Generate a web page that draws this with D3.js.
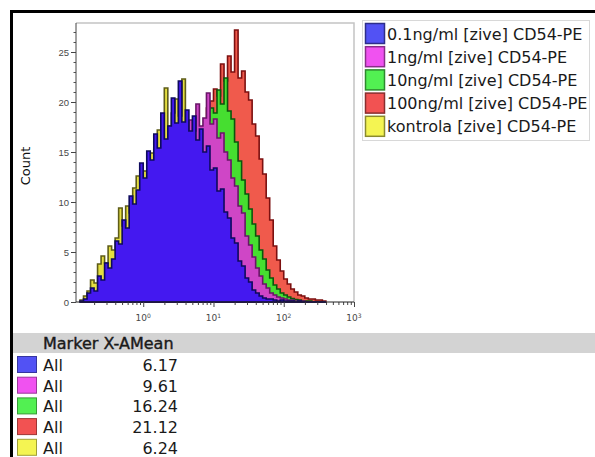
<!DOCTYPE html>
<html>
<head>
<meta charset="utf-8">
<script src="https://cdn.jsdelivr.net/npm/d3@7"></script>
<style>
  body { margin: 0; background: #fff; }
  svg { display: block; font-family: "DejaVu Sans", Verdana, sans-serif; }
</style>
</head>
<body>
<div id="chart"></div>
<script>
// histogram channels: log10 of first bin edge and bin width (decades)
const binStart = -0.9;
const binWidth = 0.05;

const seriesNames = ["0.1ng/ml [zive] CD54-PE", "1ng/ml [zive] CD54-PE", "10ng/ml [zive] CD54-PE",
  "100ng/ml [zive] CD54-PE", "kontrola [zive] CD54-PE"];
const markerMeans = ["6.17", "9.61", "16.24", "21.12", "6.24"];

const blueCounts = [0.1, 0.3, 0.9, 1.4, 1.1, 2.6, 2.2, 3.9, 3.4, 4.3, 6.1, 5.8, 8.2, 7.4, 10.6, 9.8, 11.2, 13.9, 12.4, 15.1,
  14.2, 16.8, 15.4, 18.9, 16.3, 17.6, 20.4, 17.9, 22.1, 18.0, 19.2, 17.1, 18.6, 16.2, 17.3, 15.0, 15.6, 13.2, 13.4, 11.1,
  11.3, 9.0, 8.4, 6.4, 5.9, 4.1, 3.6, 2.4, 2.0, 1.2, 0.9, 0.6, 0.4, 0.3, 0.3, 0.2, 0.1, 0.2, 0.1, 0.1,
  0.1, 0, 0.1, 0, 0, 0, 0, 0, 0, 0];
const magentaCounts = [0, 0.1, 0.3, 0.5, 0.8, 1.2, 1.5, 2.1, 2.5, 3.0, 3.6, 4.2, 5.0, 5.6, 6.5, 7.2, 8.0, 9.1, 10.0, 10.8,
  11.5, 12.3, 12.8, 13.6, 14.0, 14.6, 15.1, 15.7, 16.0, 16.6, 16.9, 18.2, 17.1, 19.8, 17.6, 18.4, 20.9, 17.8, 18.3, 16.4,
  16.9, 15.0, 14.2, 12.4, 11.6, 9.6, 8.9, 6.6, 5.7, 4.5, 3.4, 2.6, 1.8, 1.4, 0.9, 0.7, 0.5, 0.4, 0.3, 0.2,
  0.2, 0.1, 0.1, 0.1, 0, 0, 0, 0, 0, 0];
const greenCounts = [0, 0, 0.1, 0.1, 0.3, 0.4, 0.6, 0.8, 1.1, 1.3, 1.6, 2.0, 2.4, 2.8, 3.3, 3.8, 4.4, 5.0, 5.6, 6.3,
  7.0, 7.7, 8.5, 9.3, 10.0, 10.8, 11.6, 12.4, 13.1, 13.8, 14.5, 15.1, 15.8, 16.4, 17.0, 17.6, 18.2, 19.4, 18.9, 21.2,
  19.8, 22.4, 19.1, 18.3, 16.0, 14.1, 12.2, 10.8, 9.3, 7.8, 6.6, 5.2, 4.3, 3.2, 2.4, 1.7, 1.3, 0.9, 0.7, 0.5,
  0.35, 0.25, 0.2, 0.1, 0.1, 0.1, 0, 0, 0, 0];
const redCounts = [0, 0, 0, 0.1, 0.2, 0.3, 0.4, 0.6, 0.8, 1.0, 1.3, 1.6, 2.0, 2.4, 2.9, 3.4, 4.0, 4.6, 5.3, 6.0,
  6.8, 7.5, 8.3, 9.0, 9.8, 10.5, 11.2, 11.9, 12.5, 13.0, 13.6, 14.3, 15.0, 15.8, 16.9, 17.6, 19.4, 20.1, 21.3, 20.6,
  23.8, 22.1, 24.6, 23.0, 27.2, 22.4, 23.1, 21.0, 20.2, 17.8, 16.6, 14.3, 12.8, 10.4, 8.2, 5.6, 4.2, 3.1, 2.3, 1.8,
  1.3, 1.0, 0.7, 0.6, 0.4, 0.3, 0.3, 0.2, 0.2, 0.1];
const yellowCounts = [0.2, 0.6, 1.1, 2.2, 1.9, 3.8, 4.6, 3.9, 5.6, 5.2, 6.4, 9.4, 7.6, 9.6, 8.9, 11.4, 12.6, 11.9, 13.1, 12.8,
  14.9, 15.6, 17.2, 16.4, 21.4, 17.6, 18.9, 20.3, 18.6, 22.3, 18.1, 17.8, 17.4, 16.4, 15.8, 14.6, 13.6, 12.3, 11.2, 10.0,
  8.8, 7.4, 6.2, 5.0, 4.0, 3.1, 2.3, 1.7, 1.2, 0.8, 0.5, 0.35, 0.25, 0.2, 0.15, 0.1, 0.1, 0.1, 0, 0,
  0, 0, 0, 0, 0, 0, 0, 0, 0, 0];

const yTicks = [0, 5, 10, 15, 20, 25];
const xTicks = [1, 10, 100, 1000];

const swatchColors = ["#5252f4", "#f052f0", "#52f052", "#f25252", "#f4f452"];
const fillColors = ["#4418f0", "#cf46c6", "#46de30", "#f05a4c", "#e4de40"];
const strokeColors = ["#0e0a5e", "#6a1668", "#0c560c", "#7c1010", "#5e5c18"];
const allCounts = [blueCounts, magentaCounts, greenCounts, redCounts, yellowCounts];

const W = 595, H = 457;
const plot = { left: 76, right: 354, top: 23, bottom: 302 };

const svg = d3.select("#chart")
  .append("svg")
    .attr("width", W)
    .attr("height", H);

const x = d3.scaleLog()
  .domain([Math.pow(10, -0.957), 1000])
  .range([plot.left, plot.right]);

const y = d3.scaleLinear()
  .domain([0, 27.9])
  .range([plot.bottom, plot.top]);

// step-shaped area for one histogram
const area = d3.area()
  .curve(d3.curveStepAfter)
  .x(d => x(Math.pow(10, d.edge)))
  .y0(y(0))
  .y1(d => y(d.count));

function binned(counts) {
  const pts = counts.map((c, i) => ({ edge: binStart + i * binWidth, count: c }));
  pts.push({ edge: binStart + counts.length * binWidth, count: 0 });
  return pts;
}

// draw back to front: kontrola behind, 0.1ng/ml in front
const hist = svg.append("g");
[4, 3, 2, 1, 0].forEach(k => {
  hist.append("path")
    .datum(binned(allCounts[k]))
    .attr("d", area)
    .attr("fill", fillColors[k])
    .attr("stroke", strokeColors[k])
    .attr("stroke-width", 1.6)
    .attr("stroke-linejoin", "miter");
});

// light frame top and right
svg.append("path")
  .attr("d", `M${plot.left},${plot.top}H${plot.right}V${plot.bottom}`)
  .attr("fill", "none")
  .attr("stroke", "#c4c4c4")
  .attr("stroke-width", 1.5);

// Y axis, minor ticks first
svg.append("g")
  .attr("transform", `translate(${plot.left},0)`)
  .call(d3.axisLeft(y).tickValues(d3.range(0, 28)).tickSize(2.5).tickFormat(""))
  .call(g => g.select(".domain").remove())
  .selectAll("line").attr("stroke", "#555");

const yAxis = svg.append("g")
  .attr("transform", `translate(${plot.left},0)`)
  .call(d3.axisLeft(y).tickValues(yTicks).tickSize(5).tickPadding(2));
yAxis.select(".domain").attr("stroke", "#444").attr("d", `M0,${plot.top}V${plot.bottom}`);
yAxis.selectAll("line").attr("stroke", "#444");
yAxis.selectAll("text")
  .style("font-size", "9.5px")
  .attr("fill", "#484848");

// X axis
const minorX = [];
[0.1, 1, 10, 100].forEach(d => [2, 3, 4, 5, 6, 7, 8, 9].forEach(m => minorX.push(d * m)));
svg.append("g")
  .attr("transform", `translate(0,${plot.bottom})`)
  .call(d3.axisBottom(x).tickValues(minorX.filter(v => x(v) >= plot.left)).tickSize(3).tickFormat(""))
  .call(g => g.select(".domain").remove())
  .selectAll("line").attr("stroke", "#444");

const xAxis = svg.append("g")
  .attr("transform", `translate(0,${plot.bottom})`)
  .call(d3.axisBottom(x).tickValues(xTicks).tickSize(5).tickFormat(""));
xAxis.select(".domain").attr("stroke", "#222").attr("d", `M${plot.left},0H${plot.right}`);
xAxis.selectAll("line").attr("stroke", "#444");

const xLab = svg.append("g").selectAll("text")
  .data(xTicks)
  .enter()
  .append("text")
    .attr("x", d => x(d))
    .attr("y", plot.bottom + 19)
    .attr("text-anchor", "middle")
    .style("font-size", "9px")
    .attr("fill", "#484848");
xLab.append("tspan").text("10");
xLab.append("tspan")
  .attr("dy", -3.5)
  .style("font-size", "6px")
  .text((d, i) => i);

// y label
svg.append("text")
  .attr("transform", "translate(30,166) rotate(-90)")
  .attr("text-anchor", "middle")
  .style("font-size", "13px")
  .attr("fill", "#111")
  .text("Count");

// legend
const legend = svg.append("g");
legend.append("rect")
  .attr("x", 362.5).attr("y", 20.5)
  .attr("width", 227).attr("height", 120)
  .attr("fill", "#fff")
  .attr("stroke", "#d8d8d8");
seriesNames.forEach((name, i) => {
  legend.append("rect")
    .attr("x", 365.5).attr("y", 23.5 + i * 23.2)
    .attr("width", 19).attr("height", 20)
    .attr("fill", swatchColors[i])
    .attr("stroke", d3.color(swatchColors[i]).darker(1.6))
    .attr("stroke-width", 1.5);
  legend.append("text")
    .attr("x", 387).attr("y", 39.5 + i * 23.2)
    .style("font-size", "16px")
    .attr("fill", "#1a1a1a")
    .text(name);
});

// statistics table
svg.append("rect")
  .attr("x", 13).attr("y", 333)
  .attr("width", W - 13).attr("height", 20)
  .attr("fill", "#d3d3d3");
svg.append("text")
  .attr("x", 43).attr("y", 349)
  .style("font-size", "16px")
  .attr("fill", "#1a1a1a")
  .attr("stroke", "#1a1a1a")
  .attr("stroke-width", 0.4)
  .text("Marker X-AMean");

markerMeans.forEach((m, i) => {
  const top = 356 + i * 20.7;
  svg.append("rect")
    .attr("x", 17.5).attr("y", top + 0.5)
    .attr("width", 19).attr("height", 16)
    .attr("fill", swatchColors[i])
    .attr("stroke", d3.color(swatchColors[i]).darker(1.2))
    .attr("stroke-width", 1);
  svg.append("text")
    .attr("x", 43).attr("y", top + 15)
    .style("font-size", "16px")
    .attr("fill", "#1a1a1a")
    .text("All");
  svg.append("text")
    .attr("x", 178).attr("y", top + 15)
    .attr("text-anchor", "end")
    .style("font-size", "16px")
    .attr("fill", "#1a1a1a")
    .text(m);
});

// outer black frame (left and top)
svg.append("path")
  .attr("d", `M11.5,${H}V11.5H${W}`)
  .attr("fill", "none")
  .attr("stroke", "#000")
  .attr("stroke-width", 3);
</script>
</body>
</html>
